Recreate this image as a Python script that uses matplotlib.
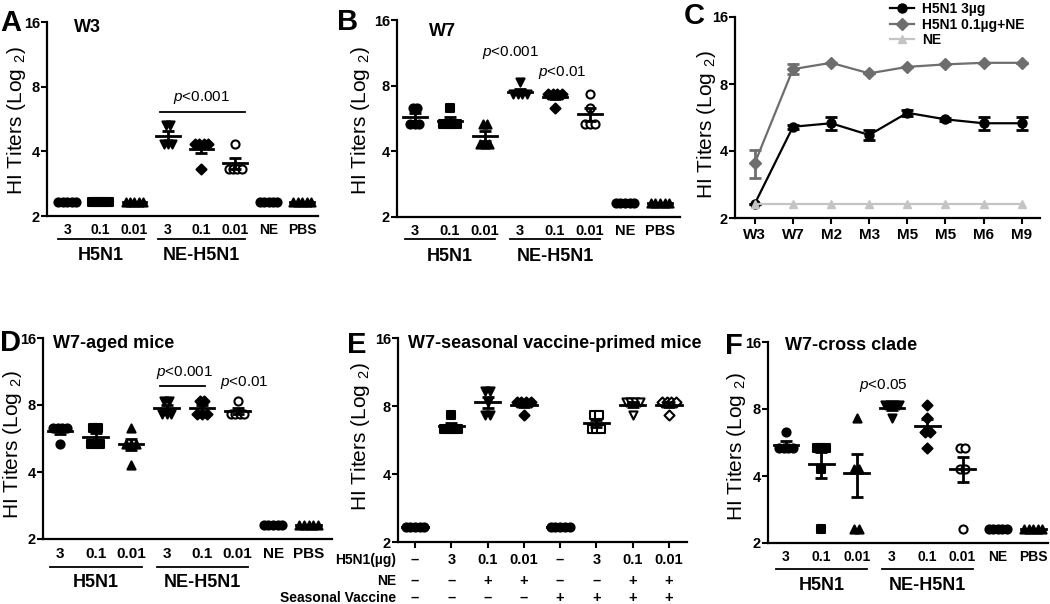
import numpy as np
import matplotlib
matplotlib.use("Agg")
import matplotlib.pyplot as plt
from matplotlib.ticker import NullLocator
from matplotlib.transforms import blended_transform_factory
from matplotlib.lines import Line2D

plt.rcParams['font.family'] = 'Liberation Sans'
plt.rcParams['font.weight'] = 'bold'
plt.rcParams['mathtext.fontset'] = 'custom'
plt.rcParams['mathtext.rm'] = 'Liberation Sans:normal'
plt.rcParams['mathtext.it'] = 'Liberation Sans:italic:normal'
plt.rcParams['axes.linewidth'] = 1.6

# ---- data (log2 HI titers) ----
doses = ["3", "0.1", "0.01", "3", "0.1", "0.01", "NE", "PBS"]
group_names = ["H5N1", "NE-H5N1"]

w3 = [
    [2.32, 2.32, 2.32, 2.32, 2.32],
    [2.32, 2.32, 2.32, 2.32, 2.32],
    [2.32, 2.32, 2.32, 2.32, 2.32],
    [5.32, 5.32, 4.32, 4.32, 4.32],
    [4.32, 4.32, 4.32, 4.32, 3.32],
    [4.32, 3.32, 3.32, 3.32, 3.32],
    [2.32, 2.32, 2.32, 2.32, 2.32],
    [2.32, 2.32, 2.32, 2.32, 2.32],
]
w7 = [
    [6.32, 6.32, 5.32, 5.32, 5.32],
    [6.32, 5.32, 5.32, 5.32, 5.32],
    [5.32, 5.32, 4.32, 4.32, 4.32],
    [8.32, 7.32, 7.32, 7.32, 7.32],
    [7.32, 7.32, 7.32, 7.32, 6.32],
    [7.32, 6.32, 5.32, 5.32, 5.32],
    [2.32, 2.32, 2.32, 2.32, 2.32],
    [2.32, 2.32, 2.32, 2.32, 2.32],
]
aged = [
    [6.32, 6.32, 6.32, 6.32, 5.32],
    [6.32, 6.32, 5.32, 5.32, 5.32],
    [6.32, 5.32, 5.32, 5.32, 4.32],
    [8.32, 8.32, 7.32, 7.32, 7.32],
    [8.32, 8.32, 7.32, 7.32, 7.32],
    [8.32, 7.32, 7.32, 7.32, 7.32],
    [2.32, 2.32, 2.32, 2.32, 2.32],
    [2.32, 2.32, 2.32, 2.32, 2.32],
]
cross = [
    [6.32, 5.32, 5.32, 5.32, 5.32],
    [5.32, 5.32, 5.32, 4.32, 2.32],
    [7.32, 4.32, 4.32, 2.32, 2.32],
    [8.32, 8.32, 8.32, 8.32, 7.32],
    [8.32, 7.32, 6.32, 6.32, 5.32],
    [5.32, 5.32, 4.32, 4.32, 2.32],
    [2.32, 2.32, 2.32, 2.32, 2.32],
    [2.32, 2.32, 2.32, 2.32, 2.32],
]

# panel E
seasonal = [
    [2.32, 2.32, 2.32, 2.32, 2.32],
    [7.32, 6.32, 6.32, 6.32, 6.32],
    [9.32, 9.32, 8.32, 7.32, 7.32],
    [8.32, 8.32, 8.32, 8.32, 7.32],
    [2.32, 2.32, 2.32, 2.32, 2.32],
    [7.32, 7.32, 6.32, 6.32, 6.32],
    [8.32, 8.32, 8.32, 8.32, 7.32],
    [8.32, 8.32, 8.32, 8.32, 7.32],
]
e_h5n1 = ["\u2013", "3", "0.1", "0.01", "\u2013", "3", "0.1", "0.01"]
e_ne = ["\u2013", "\u2013", "+", "+", "\u2013", "\u2013", "+", "+"]
e_vacc = ["\u2013", "\u2013", "\u2013", "\u2013", "+", "+", "+", "+"]

# panel C time course
c_times = ["W3", "W7", "M2", "M3", "M5", "M5", "M6", "M9"]
c_h5n1 = [2.32, 5.14, 5.33, 4.72, 5.94, 5.55, 5.33, 5.33]
c_h5n1_err = [0.0, 0.1, 0.35, 0.26, 0.2, 0.08, 0.35, 0.35]
c_ne_h5n1 = [3.53, 9.33, 9.96, 8.93, 9.55, 9.80, 9.96, 9.96]
c_ne_h5n1_err = [0.52, 0.49, 0.0, 0.0, 0.0, 0.0, 0.0, 0.0]
c_ne = [2.32, 2.32, 2.32, 2.32, 2.32, 2.32, 2.32, 2.32]

# ---- styles ----
dot_markers = ['o', 's', '^', 'v', 'D', 'o', 'o', '^']
dot_open = [False, False, False, False, False, True, False, False]
e_markers = ['o', 's', 'v', 'D', 'o', 's', 'v', 'D']
e_open = [False, False, False, False, False, True, True, True]

W, H = 1050, 604
fig = plt.figure(figsize=(W / 100, H / 100), dpi=100)


def px_axes(l, t, r, b):
    return fig.add_axes([l / W, 1 - b / H, (r - l) / W, (b - t) / H])


def spread(vals, step=0.13):
    vals = np.asarray(vals)
    off = np.zeros(len(vals))
    for v in np.unique(vals):
        idx = np.where(vals == v)[0]
        off[idx] = (np.arange(len(idx)) - (len(idx) - 1) / 2) * step
    return off


def style_log(ax, xlim):
    ax.set_yscale('log', base=2)
    ax.set_ylim(2, 16)
    ax.set_yticks([2, 4, 8, 16])
    ax.set_yticklabels(['2', '4', '8', '16'])
    ax.yaxis.set_minor_locator(NullLocator())
    ax.set_xlim(*xlim)
    ax.spines['top'].set_visible(False)
    ax.spines['right'].set_visible(False)
    ax.tick_params(axis='y', length=4, width=1.5, labelsize=10.5, pad=1)


def dots(ax, data, markers, opens):
    for i, vals in enumerate(data):
        v = np.array(vals)
        mk = markers[i]
        s = 26 if mk == 'D' else 34
        fc = 'white' if opens[i] else 'black'
        ax.scatter(i + spread(v), v, marker=mk, s=s, facecolor=fc,
                   edgecolor='black', linewidths=1.5, zorder=3, clip_on=False)
        m = v.mean()
        se = v.std(ddof=1) / np.sqrt(len(v))
        ax.plot([i - 0.35, i + 0.35], [m, m], color='black', lw=2, zorder=4)
        if se > 0:
            ax.errorbar(i, m, yerr=se, color='black', capsize=4.5,
                        elinewidth=2, capthick=2, zorder=4)


def group_axis(ax, pad, fs, line_y, label_y):
    ax.set_xticks(range(len(doses)))
    ax.set_xticklabels(doses, fontsize=fs)
    ax.tick_params(axis='x', length=0, pad=pad)
    tr = blended_transform_factory(ax.transData, ax.transAxes)
    for k, name in enumerate(group_names):
        c = 1 + 3 * k
        ax.plot([c - 1.28, c + 1.3], [line_y, line_y], color='black', lw=1.3,
                transform=tr, clip_on=False)
        ax.text(c, label_y, name, transform=tr, ha='center', va='center',
                fontsize=13)


ylab = r'HI Titers (Log $_{\mathregular{2}}$)'


def ylabel_at(x, y):
    fig.text(x / W, 1 - y / H, ylab, rotation=90, ha='center', va='center',
             fontsize=15, fontweight='normal')


def letter(x, y, s):
    fig.text(x / W, 1 - y / H, s, fontsize=21, ha='left', va='center')


def title(x, y, s):
    fig.text(x / W, 1 - y / H, s, fontsize=13, ha='left', va='center')


def ptext(ax, x, y, s):
    ax.text(x, y, r'$\mathit{p}$' + s, ha='center', va='center', fontsize=11,
            fontweight='normal')


# ---- A ----
axA = px_axes(47, 22, 318, 216)
style_log(axA, (-0.6, 7.47))
dots(axA, w3, dot_markers, dot_open)
group_axis(axA, 5, 10, -0.119, -0.206)
axA.plot([2.77, 5.3], [6.1, 6.1], color='black', lw=1.3)
ptext(axA, 4.0, 7.1, '<0.001')

# ---- B ----
axB = px_axes(397, 20, 680, 217)
style_log(axB, (-0.51, 7.57))
dots(axB, w7, dot_markers, dot_open)
group_axis(axB, 5, 10.5, -0.112, -0.203)
ptext(axB, 2.74, 11.3, '<0.001')
ptext(axB, 4.2, 9.2, '<0.01')

# ---- C ----
axC = px_axes(735, 17, 1040, 218)
style_log(axC, (-0.52, 7.48))
xc = np.arange(len(c_times))
axC.errorbar(xc, c_ne_h5n1, yerr=c_ne_h5n1_err, color='#6e6e6e', marker='D',
             ms=6, lw=1.6, elinewidth=2, capsize=4, capthick=2, zorder=3)
axC.errorbar(xc, c_h5n1, yerr=c_h5n1_err, color='black', marker='o',
             ms=6.5, lw=1.6, elinewidth=2, capsize=4, capthick=2, zorder=4)
axC.plot(xc, c_ne, color='#c4c4c4', marker='^', ms=6, lw=1.6, zorder=5)
axC.set_xticks(xc)
axC.set_xticklabels(c_times, fontsize=11)
axC.tick_params(axis='x', length=4, width=1.5, pad=3)
handles = [
    Line2D([], [], color='black', marker='o', ms=6.5, lw=1.6),
    Line2D([], [], color='#6e6e6e', marker='D', ms=6, lw=1.6),
    Line2D([], [], color='#c4c4c4', marker='^', ms=6, lw=1.6),
]
fig.legend(handles, ["H5N1 3\u00b5g", "H5N1 0.1\u00b5g+NE", "NE"],
           loc='upper left', bbox_to_anchor=(890 / W, 1 - 2 / H),
           frameon=False, fontsize=10, handlelength=1.7, handletextpad=0.6,
           labelspacing=0.12, borderpad=0, borderaxespad=0)

# ---- D ----
axD = px_axes(43, 338, 332, 539)
style_log(axD, (-0.48, 7.66))
dots(axD, aged, dot_markers, dot_open)
group_axis(axD, 6, 11, -0.139, -0.214)
axD.plot([2.82, 4.08], [9.77, 9.77], color='black', lw=1.3)
ptext(axD, 3.5, 11.2, '<0.001')
ptext(axD, 5.2, 10.1, '<0.01')

# ---- E ----
axE = px_axes(398, 338, 687, 542)
style_log(axE, (-0.47, 7.5))
dots(axE, seasonal, e_markers, e_open)
axE.set_xticks(range(len(e_h5n1)))
axE.set_xticklabels(e_h5n1, fontsize=10.5)
axE.tick_params(axis='x', length=4, width=1.5, pad=4)
trE = blended_transform_factory(axE.transData, axE.transAxes)
for i in range(len(e_ne)):
    axE.text(i, -0.19, e_ne[i], transform=trE, ha='center', va='center', fontsize=10.5)
    axE.text(i, -0.275, e_vacc[i], transform=trE, ha='center', va='center', fontsize=10.5)
axE.text(-0.005, -0.088, "H5N1(\u00b5g)", transform=axE.transAxes, ha='right', va='center', fontsize=10)
axE.text(-0.005, -0.19, "NE", transform=axE.transAxes, ha='right', va='center', fontsize=10)
axE.text(-0.005, -0.275, "Seasonal Vaccine", transform=axE.transAxes, ha='right', va='center', fontsize=10)

# ---- F ----
axF = px_axes(768, 342, 1048, 543)
style_log(axF, (-0.51, 7.42))
dots(axF, cross, dot_markers, dot_open)
group_axis(axF, 5, 10, -0.129, -0.209)
ptext(axF, 2.75, 10.2, '<0.05')

# labels, titles, panel letters
ylabel_at(17, 121)
ylabel_at(360, 121)
ylabel_at(707, 125)
ylabel_at(13, 445)
ylabel_at(360, 437)
ylabel_at(737, 447)

title(74, 27, "W3")
title(429, 32, "W7")
title(53, 344, "W7-aged mice")
title(408, 343, "W7-seasonal vaccine-primed mice")
title(785, 345, "W7-cross clade")

letter(0, 23, "A")
letter(337, 22, "B")
letter(684, 16, "C")
letter(0, 343, "D")
letter(347, 345, "E")
letter(725, 346, "F")

fig.savefig("out.png", dpi=100)
